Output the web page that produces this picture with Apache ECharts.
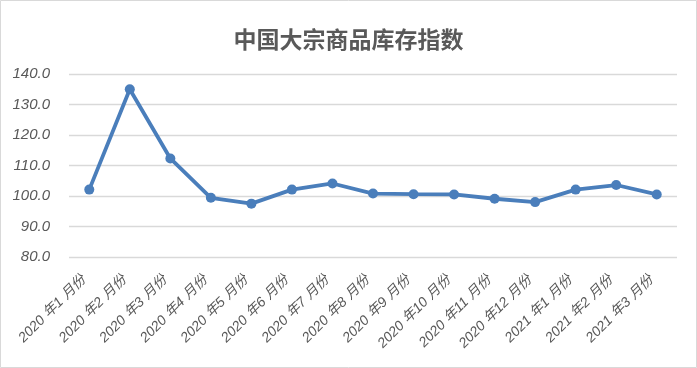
<!DOCTYPE html>
<html><head><meta charset="utf-8">
<script src="https://cdn.jsdelivr.net/npm/echarts@6/dist/echarts.min.js"></script>
<style>html,body{margin:0;padding:0;background:#fff}#c{width:697px;height:368px}</style>
</head><body><div id="c"></div>
<script>
const categories = ['2020年1月份','2020年2月份','2020年3月份','2020年4月份','2020年5月份','2020年6月份','2020年7月份','2020年8月份','2020年9月份','2020年10月份','2020年11月份','2020年12月份','2021年1月份','2021年2月份','2021年3月份'];
const values = [102.1, 135.0, 112.3, 99.4, 97.5, 102.1, 104.1, 100.8, 100.6, 100.5, 99.1, 98.0, 102.1, 103.6, 100.5];
const yMin = 80, yMax = 140, yStep = 10;

const chart = echarts.init(document.getElementById('c'), null, {renderer: 'canvas'});
chart.setOption({
  backgroundColor: '#fff',
  animation: false,
  graphic: [{type: 'rect', shape: {x: 0.5, y: 0.5, width: 696, height: 367}, style: {fill: 'none', stroke: '#d9d9d9', lineWidth: 1}, silent: true}],
  title: {
    text: '中国大宗商品库存指数', left: 'center', top: 23,
    textStyle: {fontFamily: 'Noto Sans CJK SC', fontSize: 23, fontWeight: 'bold', color: '#595959'}
  },
  grid: {left: 69, right: 20, top: 74, bottom: 111, containLabel: false},
  xAxis: {
    type: 'category', data: categories, boundaryGap: true,
    axisLine: {show: false}, axisTick: {show: false},
    axisLabel: {rotate: 45, interval: 0, margin: 15, color: '#595959', fontSize: 14, fontStyle: 'italic', fontFamily: 'Liberation Sans, Noto Sans CJK SC',
      formatter: s => s.replace(/^(\d{4})年(\d+)月份$/, '$1 年$2 月份  ')}
  },
  yAxis: {
    type: 'value', min: yMin, max: yMax, interval: yStep,
    axisLine: {show: false}, axisTick: {show: false},
    splitLine: {lineStyle: {color: '#d9d9d9', width: 1.3}},
    axisLabel: {margin: 19, color: '#595959', fontSize: 15, fontStyle: 'italic', fontFamily: 'Liberation Sans', formatter: v => v.toFixed(1)}
  },
  series: [{
    type: 'line', data: values, symbol: 'circle', symbolSize: 10,
    lineStyle: {color: '#4a7ebb', width: 3.8},
    itemStyle: {color: '#4a7ebb'}
  }]
});
</script></body></html>
